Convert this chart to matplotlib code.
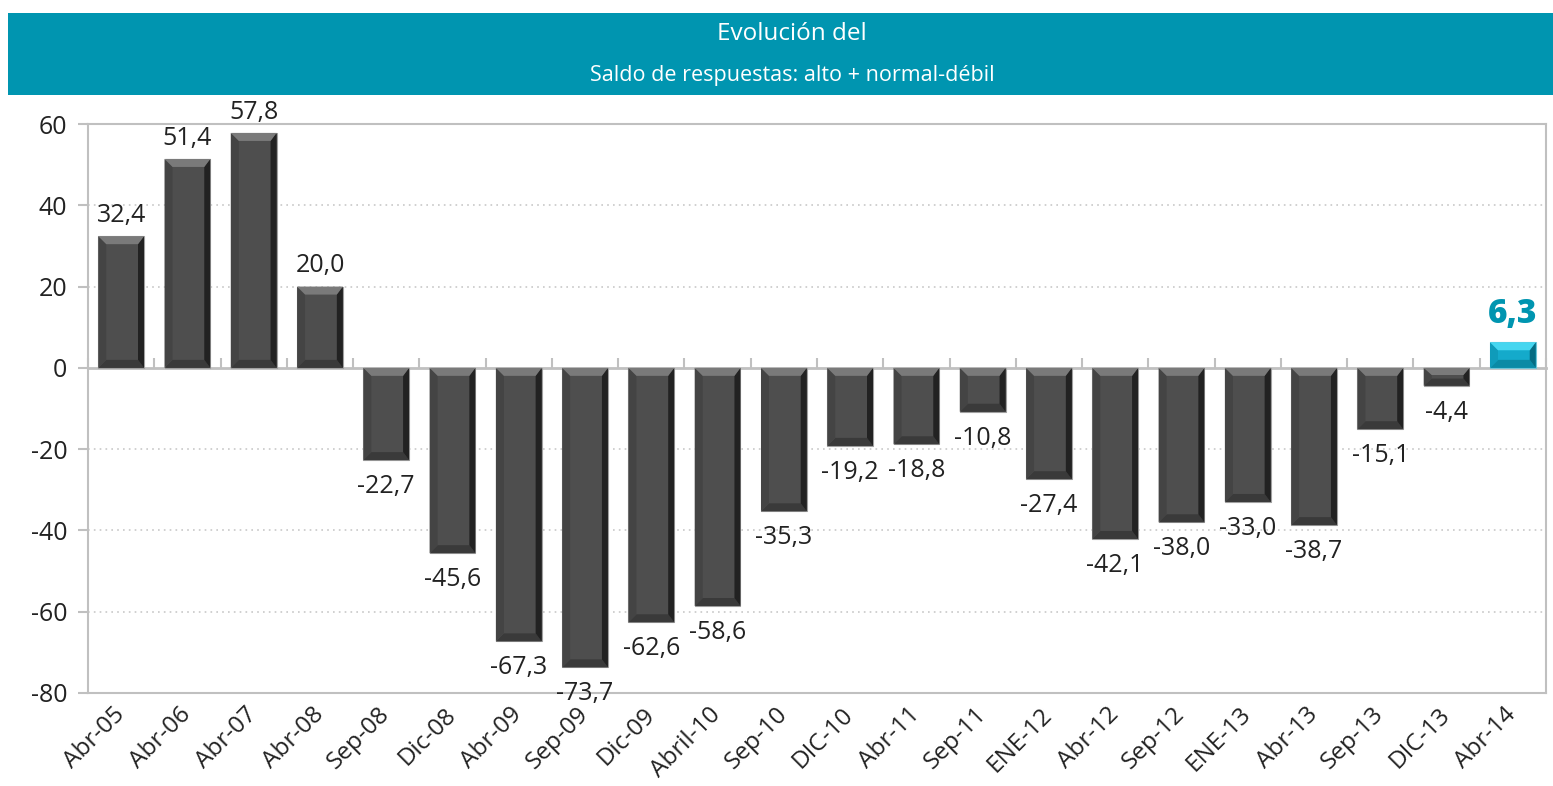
import matplotlib
matplotlib.use("Agg")
import matplotlib.pyplot as plt
from matplotlib.patches import Rectangle, Polygon

plt.rcParams['font.family'] = ['Open Sans', 'DejaVu Sans']

categories = ["Abr-05", "Abr-06", "Abr-07", "Abr-08", "Sep-08", "Dic-08", "Abr-09",
              "Sep-09", "Dic-09", "Abril-10", "Sep-10", "DIC-10", "Abr-11", "Sep-11",
              "ENE-12", "Abr-12", "Sep-12", "ENE-13", "Abr-13", "Sep-13", "DIC-13", "Abr-14"]
values = [32.4, 51.4, 57.8, 20.0, -22.7, -45.6, -67.3, -73.7, -62.6, -58.6, -35.3,
          -19.2, -18.8, -10.8, -27.4, -42.1, -38.0, -33.0, -38.7, -15.1, -4.4, 6.3]
yticks = [-80, -60, -40, -20, 0, 20, 40, 60]
title_line1 = "Evolución del"
title_line2 = "Saldo de respuestas: alto + normal-débil"

W, H = 1553, 786
fig = plt.figure(figsize=(W / 100, H / 100), dpi=100)
fig.patch.set_facecolor('white')

# Title banner
teal = '#0095B0'
fig.patches.append(Rectangle((8 / W, 1 - 95 / H), (W - 8) / W, 82 / H,
                             transform=fig.transFigure, facecolor=teal,
                             edgecolor='none', zorder=0))
fig.text(792 / W, 1 - 34 / H, title_line1, color='white', fontsize=17.5,
         ha='center', va='center')
fig.text(792 / W, 1 - 76 / H, title_line2, color='white', fontsize=15.5,
         ha='center', va='center')

left_px, right_px, top_px, bot_px = 88, 1546, 124, 693
ax = fig.add_axes([left_px / W, 1 - bot_px / H, (right_px - left_px) / W,
                   (bot_px - top_px) / H])
n = len(values)
ymin, ymax = -80, 60
ax.set_xlim(-0.5, n - 0.5)
ax.set_ylim(ymin, ymax)

pxx = (right_px - left_px) / n
pxy = (bot_px - top_px) / (ymax - ymin)

gridc = '#c0c0c0'
# grid
for t in yticks:
    if t not in (0, ymin, ymax):
        ax.axhline(t, color='#c8c8c8', lw=1.2, ls=(0, (1, 2.5)), zorder=0)

for s in ax.spines.values():
    s.set_color(gridc)
    s.set_linewidth(1.5)

ax.set_yticks(yticks)
ax.set_yticklabels([str(t) for t in yticks])
ax.tick_params(axis='y', length=7, color=gridc, width=1.5, labelsize=18,
               labelcolor='#222222', pad=8)
ax.set_xticks(range(n))
ax.set_xticklabels(categories, rotation=45, ha='right', va='center',
                   rotation_mode='anchor', fontsize=17.5, color='#222222')
ax.tick_params(axis='x', length=0, pad=13)

# zero axis with category-boundary ticks
sec = ax.secondary_xaxis((0 - ymin) / (ymax - ymin))
sec.set_xticks([i + 0.5 for i in range(-1, n)])
sec.set_xticklabels([])
sec.tick_params(length=7, color=gridc, width=1.5, direction='out')
for s in sec.spines.values():
    s.set_color(gridc)
    s.set_linewidth(2)

grey = dict(body='#4e4e4e', top='#7a7a7a', bottom='#3a3a3a', right='#222222',
            left='#444444', edge='#a0a0a0')
cyan = dict(body='#14AACB', top='#45D6F0', bottom='#0A8AA5', right='#056C83',
            left='#0F9BBA', edge='#6fc4d6')

bw = 0.69
bev_px = 8
for i, v in enumerate(values):
    c = cyan if i == n - 1 else grey
    x0, x1 = i - bw / 2, i + bw / 2
    ytop, ybot = max(v, 0), min(v, 0)
    hpx = (ytop - ybot) * pxy
    bpy = min(bev_px, hpx * 0.4)
    bx = bev_px / pxx
    bxr = 6 / pxx
    by = bpy / pxy
    ax.bar(i, v, width=bw, color=c['body'], edgecolor=c['edge'], linewidth=0.8,
           zorder=2)
    polys = [
        ([(x0, ybot), (x1, ybot), (x1 - bxr, ybot + by), (x0 + bx, ybot + by)], c['bottom']),
        ([(x0, ytop), (x0, ybot), (x0 + bx, ybot + by), (x0 + bx, ytop - by)], c['left']),
        ([(x1, ytop), (x1, ybot), (x1 - bxr, ybot + by), (x1 - bxr, ytop - by)], c['right']),
        ([(x0, ytop), (x1, ytop), (x1 - bxr, ytop - by), (x0 + bx, ytop - by)], c['top']),
    ]
    for pts, col in polys:
        ax.add_patch(Polygon(pts, closed=True, facecolor=col, edgecolor='none',
                             zorder=3))
    lbl = f"{v:.1f}".replace('.', ',')
    if i == n - 1:
        ax.annotate(lbl, (i, v), xytext=(0, 8), textcoords='offset points',
                    ha='center', va='bottom', fontsize=24, fontweight='heavy',
                    color=teal, zorder=5)
    elif v >= 0:
        ax.annotate(lbl, (i, v), xytext=(0, 6), textcoords='offset points',
                    ha='center', va='bottom', fontsize=18, color='#222222',
                    zorder=5)
    else:
        ax.annotate(lbl, (i, v), xytext=(0, -10), textcoords='offset points',
                    ha='center', va='top', fontsize=18, color='#222222',
                    zorder=5)

fig.savefig('out.png', dpi=100)
